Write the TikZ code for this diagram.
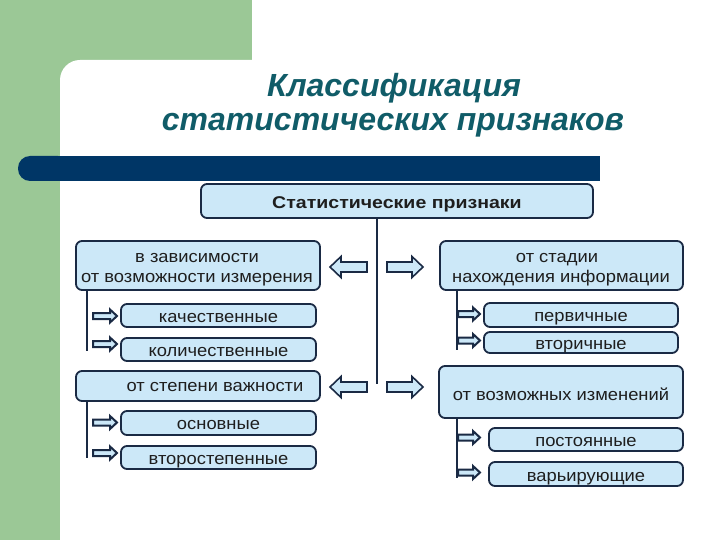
\documentclass[tikz,border=0pt]{standalone}
\usepackage{fontspec}
\setmainfont{Liberation Sans}
\newfontfamily\boxfont[FakeStretch=1.08]{Liberation Sans}
\newfontfamily\boxbold[FakeStretch=1.15]{Liberation Sans}
\usetikzlibrary{calc}
\definecolor{bggreen}{RGB}{155,200,150}
\definecolor{barnavy}{RGB}{0,54,102}
\definecolor{titleteal}{RGB}{16,92,104}
\definecolor{boxfill}{RGB}{204,232,248}
\definecolor{boxline}{RGB}{26,42,68}
\definecolor{txt}{RGB}{30,30,30}
\tikzset{
  box/.style={draw=boxline, line width=1.8pt, fill=boxfill, rounded corners=6pt,
    rectangle, inner sep=0pt, text=txt, font=\boxfont\fontsize{17}{20}\selectfont,
    text height=13pt, text depth=0pt},
  lbl/.style={anchor=base, text=txt, font=\boxfont\fontsize{17}{20}\selectfont, inner sep=0pt},
  branch/.style={draw=boxline, line width=1.8pt},
  blockarrow/.style={draw=boxline, line width=1.6pt, fill=boxfill, line join=miter},
  smallarrow/.style={draw=boxline, line width=2pt, fill=boxfill, line join=miter},
  ttl/.style={anchor=base, text=titleteal, font=\fontsize{32}{32}\selectfont\bfseries\itshape},
}
% right-pointing block arrow: x-start, x-end, y, body half, head half, head length, style
\newcommand{\rarr}[7]{\draw[#7] (#1,#3-#4) -- (#2-#6,#3-#4) -- (#2-#6,#3-#5) -- (#2,#3) -- (#2-#6,#3+#5) -- (#2-#6,#3+#4) -- (#1,#3+#4) -- cycle;}
% left-pointing: x-tip, x-tail, y, body half, head half, head length, style
\newcommand{\larr}[7]{\draw[#7] (#2,#3-#4) -- (#1+#6,#3-#4) -- (#1+#6,#3-#5) -- (#1,#3) -- (#1+#6,#3+#5) -- (#1+#6,#3+#4) -- (#2,#3+#4) -- cycle;}
\begin{document}
\begin{tikzpicture}[x=1pt,y=-1pt]
\useasboundingbox (0,0) rectangle (720,540);
\fill[white] (0,0) rectangle (720,540);
% background
\fill[bggreen] (0,0) rectangle (252,60);
\fill[bggreen] (0,0) rectangle (60,540);
\fill[bggreen] (0,0) rectangle (85,85);
\fill[white, rounded corners=20pt] (60,60) rectangle (780,600);
% bar
\fill[barnavy, rounded corners=12pt] (18,156) rectangle (70,181);
\fill[barnavy] (40,156) rectangle (600,181);
% title
\node[ttl] (t1) at (394,97) {Классификация};
\node[ttl] (t2) at (393,131) {статистических признаков};
% boxes
\node[box, minimum width=392pt, minimum height=34pt, font=\boxbold\bfseries\fontsize{17}{20}\selectfont, text height=16pt] (top) at (397,201) {Статистические признаки};
\node[box, minimum width=244pt, minimum height=49pt] (l1) at (198,265.5) {};
\node[lbl] (l1a) at (197,262.7) {в зависимости};
\node[lbl] (l1b) at (197,282.7) {от возможности измерения};
\node[box, minimum width=243pt, minimum height=49pt] (r1) at (561.5,265.5) {};
\node[lbl] (r1a) at (557,262.7) {от стадии};
\node[lbl] (r1b) at (561,282.7) {нахождения информации};
\node[box, minimum width=244pt, minimum height=30pt] (l2) at (198,386) {};
\node[lbl] (l2t) at (215,391.5) {от степени важности};
\node[box, minimum width=244pt, minimum height=52pt, text height=16pt] (r2) at (561,392) {от возможных изменений};
\node[box, minimum width=195pt, minimum height=23pt] (a1) at (218.5,315.5) {качественные};
\node[box, minimum width=195pt, minimum height=23pt] (a2) at (218.5,349.5) {количественные};
\node[box, minimum width=195pt, minimum height=24pt] (b1) at (218.5,423) {основные};
\node[box, minimum width=195pt, minimum height=23pt] (b2) at (218.5,457.5) {второстепенные};
\node[box, minimum width=194pt, minimum height=24pt] (c1) at (581,315) {первичные};
\node[box, minimum width=194pt, minimum height=21pt] (c2) at (581,342.5) {вторичные};
\node[box, minimum width=194pt, minimum height=23pt] (d1) at (586,439.5) {постоянные};
\node[box, minimum width=194pt, minimum height=24pt, text height=14pt] (d2) at (586,474) {варьирующие};
% branch lines
\coordinate (mx) at (377,0);
\coordinate (lx) at (87,0);
\coordinate (rx) at (457,0);
\draw[branch] (top.south -| mx) -- ($(top.south -| mx)+(0,165)$);
\draw[branch] (l1.south -| lx) -- ($(l1.south -| lx)+(0,60)$);
\draw[branch] (l2.south -| lx) -- ($(l2.south -| lx)+(0,56)$);
\draw[branch] (r1.south -| rx) -- ($(r1.south -| rx)+(0,59)$);
\draw[branch] (r2.south -| rx) -- ($(r2.south -| rx)+(0,59)$);
% big arrows
\larr{330}{367}{267}{5}{10.5}{11}{blockarrow}
\rarr{387}{423}{267}{5}{10.5}{11}{blockarrow}
\larr{330}{367}{387}{5}{10.5}{11}{blockarrow}
\rarr{387}{423}{387}{5}{10.5}{11}{blockarrow}
% small arrows
\rarr{93}{117}{316}{3}{6.5}{7}{smallarrow}
\rarr{93}{117}{344}{3}{6.5}{7}{smallarrow}
\rarr{93}{117}{422.5}{3}{6.5}{7}{smallarrow}
\rarr{93}{117}{453}{3}{6.5}{7}{smallarrow}
\rarr{458}{480}{314}{3}{6.5}{7}{smallarrow}
\rarr{458}{480}{340.5}{3}{6.5}{7}{smallarrow}
\rarr{458}{480}{437.5}{3}{6.5}{7}{smallarrow}
\rarr{458}{480}{472.5}{3}{6.5}{7}{smallarrow}
\end{tikzpicture}
\end{document}
